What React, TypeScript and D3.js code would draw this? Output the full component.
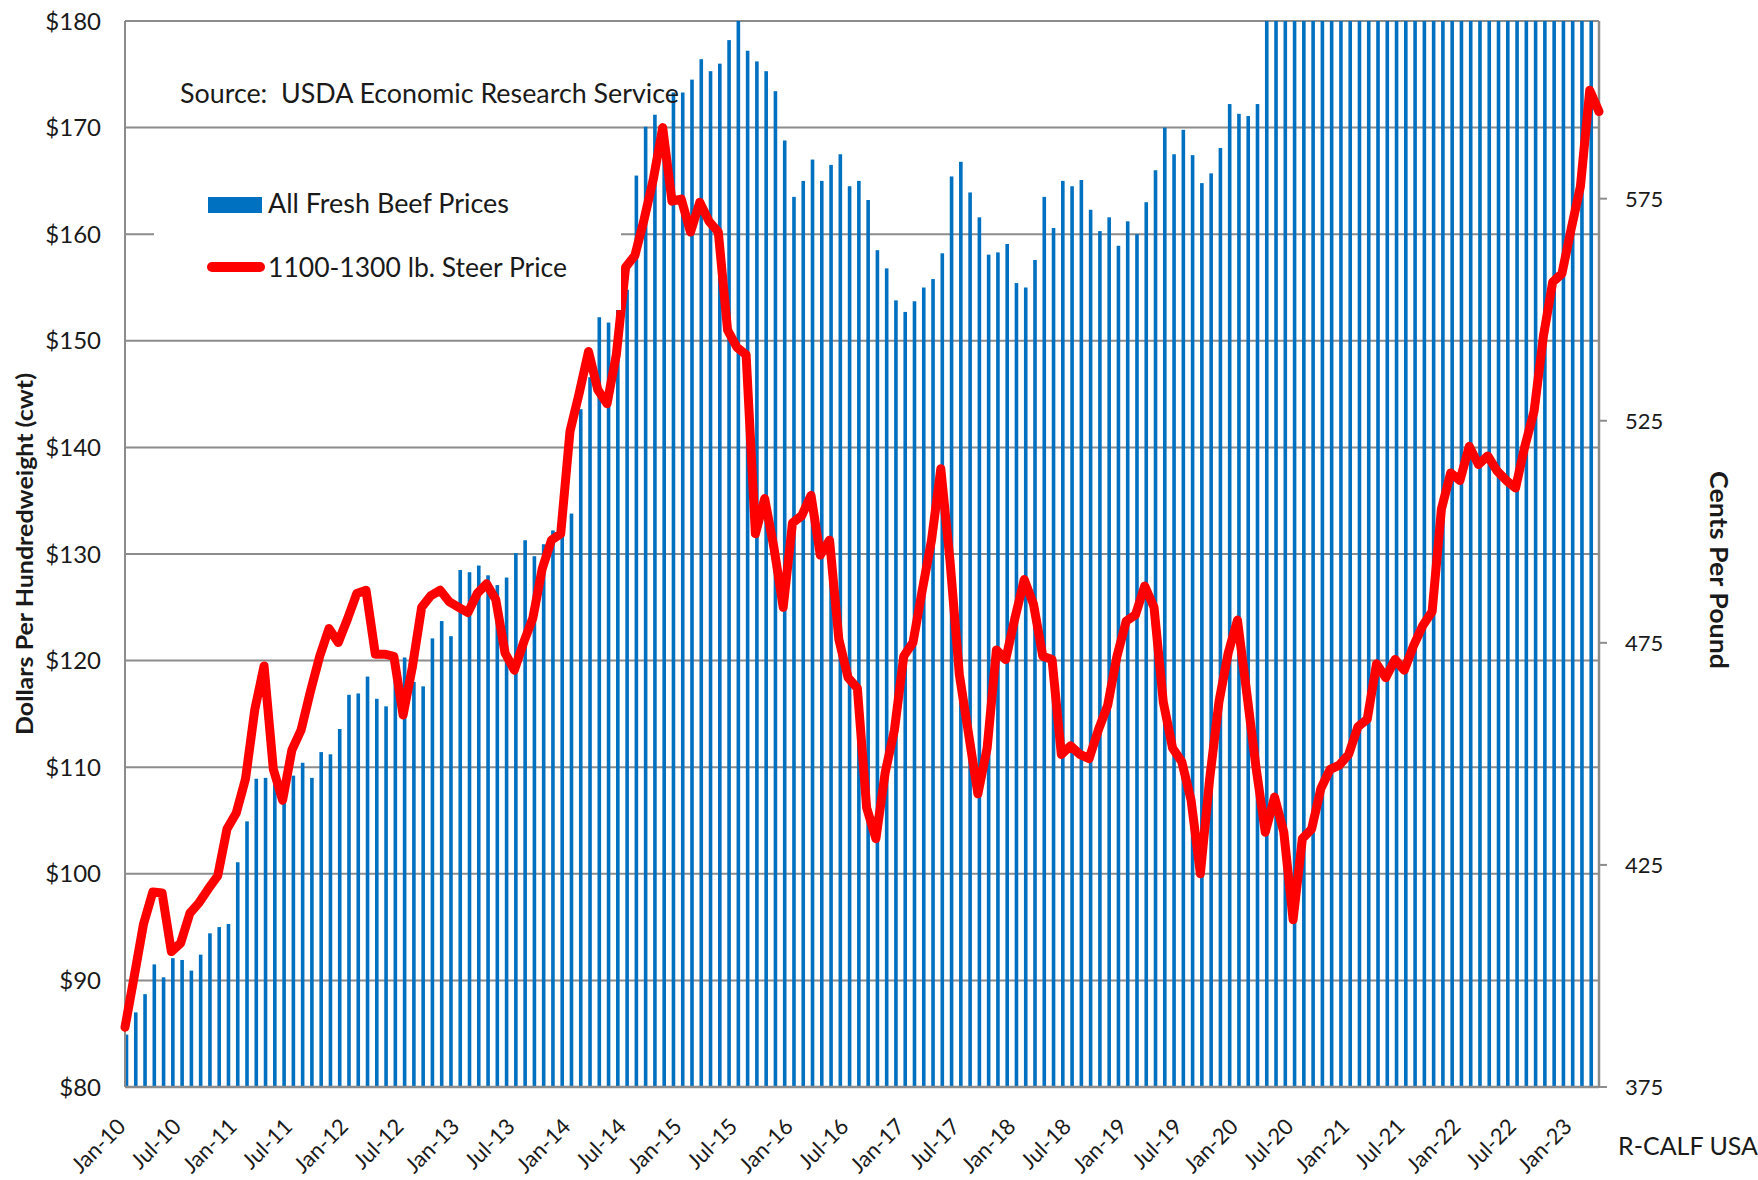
import React, { useEffect, useRef } from "react";
import * as d3 from "d3";

// 1100-1300 lb. steer price, $/cwt, monthly Jan-10 .. Apr-23
const steerPrice = [
  85.6, 90.4, 95.3, 98.3, 98.2, 92.7, 93.5, 96.3, 97.3, 98.6,
  99.8, 104.2, 105.7, 108.9, 115.4, 119.5, 109.8, 106.9, 111.6, 113.5,
  117.1, 120.4, 123.0, 121.7, 123.9, 126.3, 126.6, 120.6, 120.6, 120.4,
  114.9, 119.4, 125.0, 126.1, 126.6, 125.5, 125.0, 124.5, 126.3, 127.2,
  125.7, 120.7, 119.1, 121.7, 124.0, 128.6, 131.3, 131.9, 141.5, 145.1,
  149.0, 145.4, 144.1, 148.7, 156.9, 158.0, 161.4, 165.2, 170.0, 163.1,
  163.3, 160.2, 163.0, 161.2, 160.2, 151.0, 149.4, 148.7, 131.9, 135.2,
  130.6, 125.0, 132.9, 133.6, 135.5, 129.9, 131.3, 122.0, 118.4, 117.4,
  106.2, 103.3, 109.5, 113.5, 120.4, 121.7, 126.6, 131.3, 138.0, 129.3,
  118.7, 113.1, 107.5, 111.8, 121.0, 120.1, 124.0, 127.6, 125.3, 120.4,
  120.1, 111.2, 112.0, 111.2, 110.8, 113.5, 115.8, 120.4, 123.7, 124.3,
  127.0, 125.0, 116.1, 111.8, 110.5, 106.9, 100.0, 108.9, 116.1, 120.7,
  123.8, 117.0, 110.0, 103.9, 107.2, 103.9, 95.7, 103.3, 104.2, 108.0,
  109.8, 110.2, 111.2, 113.8, 114.5, 119.7, 118.4, 120.1, 119.1, 121.4,
  123.3, 124.6, 134.2, 137.6, 136.9, 140.1, 138.4, 139.2, 137.8, 136.9,
  136.2, 140.1, 143.4, 150.4, 155.5, 156.3, 160.5, 164.5, 173.5, 171.5,
];

// all fresh beef retail price, cents/lb, monthly Jan-10 .. Mar-23
// from Apr-20 on the bars run off the top of the chart, so those are guesses
const beefPrice = [
  386.8, 391.8, 395.9, 402.6, 399.7, 404.0, 403.6, 401.2, 404.8, 409.6,
  411.0, 411.7, 425.6, 434.8, 444.4, 444.6, 445.3, 441.7, 445.1, 448.0,
  444.6, 450.4, 449.9, 455.6, 463.3, 463.6, 467.4, 462.4, 460.7, 471.0,
  471.7, 466.2, 465.2, 476.0, 479.9, 476.5, 491.4, 490.9, 492.4, 490.2,
  488.0, 489.7, 495.2, 498.1, 494.5, 497.2, 500.3, 500.0, 504.1, 527.6,
  534.8, 548.3, 547.1, 551.2, 554.5, 580.2, 591.2, 593.9, 589.8, 598.9,
  598.9, 601.8, 606.4, 603.7, 605.4, 610.7, 615.0, 608.3, 605.9, 603.7,
  599.2, 588.1, 575.4, 579.0, 583.8, 579.0, 582.6, 585.0, 577.8, 579.0,
  574.7, 563.4, 559.3, 552.1, 549.5, 551.9, 555.0, 556.9, 562.7, 580.0,
  583.3, 576.4, 570.8, 562.4, 562.9, 564.8, 556.0, 555.0, 561.2, 575.4,
  568.4, 579.0, 577.8, 579.2, 572.5, 567.7, 570.8, 564.4, 569.9, 567.0,
  574.2, 581.4, 591.0, 585.0, 590.5, 584.8, 578.5, 580.7, 586.4, 596.3,
  594.1, 593.6, 596.3, 625, 660, 735, 690, 655, 650, 645,
  640, 640, 635, 640, 645, 655, 665, 690, 700, 720,
  725, 730, 735, 740, 745, 760, 765, 760, 755, 760,
  755, 745, 740, 735, 730, 725, 730, 735, 735,
];

// one label every 6 months, starting at Jan-10
const tickLabels = [
  "Jan-10", "Jul-10", "Jan-11", "Jul-11", "Jan-12", "Jul-12", "Jan-13", "Jul-13",
  "Jan-14", "Jul-14", "Jan-15", "Jul-15", "Jan-16", "Jul-16", "Jan-17", "Jul-17",
  "Jan-18", "Jul-18", "Jan-19", "Jul-19", "Jan-20", "Jul-20", "Jan-21", "Jul-21",
  "Jan-22", "Jul-22", "Jan-23",
];
const leftTicks = [80, 90, 100, 110, 120, 130, 140, 150, 160, 170, 180];
const rightTicks = [375, 425, 475, 525, 575];

const W = 1758, H = 1180;
const FONT = "Lato, 'Open Sans', sans-serif";

export default function App() {
  const ref = useRef<SVGSVGElement>(null);

  useEffect(() => {
    const svg = d3.select(ref.current);
    svg.selectAll("*").remove();

    const left = 125, right = 1599, top = 21, bottom = 1087;
    const grey = "#8c8c8c";

    const x = d3.scalePoint<number>()
      .domain(d3.range(steerPrice.length))
      .range([left, right]);
    const yL = d3.scaleLinear().domain([80, 180]).range([bottom, top]);
    const yR = d3.scaleLinear().domain([375, 615]).range([bottom, top]);

    svg.append("rect").attr("width", W).attr("height", H).attr("fill", "#fff");

    svg.append("clipPath").attr("id", "plot-clip")
      .append("rect")
      .attr("x", left).attr("y", top)
      .attr("width", right - left).attr("height", bottom - top);

    // gridlines
    svg.append("g").selectAll("line")
      .data(leftTicks)
      .join("line")
      .attr("x1", left).attr("x2", right)
      .attr("y1", d => yL(d)).attr("y2", d => yL(d))
      .attr("stroke", grey).attr("stroke-width", 2);

    // bars
    const bw = 3.6;
    svg.append("g").attr("clip-path", "url(#plot-clip)")
      .selectAll("rect")
      .data(beefPrice)
      .join("rect")
      .attr("x", (d, i) => (x(i) as number) + 1.5 - bw / 2)
      .attr("y", d => yR(d))
      .attr("width", bw)
      .attr("height", d => bottom - yR(d))
      .attr("fill", "#0070C0");

    // axis lines
    const axes = svg.append("g").attr("stroke", grey);
    axes.append("line").attr("x1", left).attr("x2", left).attr("y1", top).attr("y2", bottom).attr("stroke-width", 2);
    axes.append("line").attr("x1", right).attr("x2", right).attr("y1", top).attr("y2", bottom).attr("stroke-width", 2.5);
    axes.append("line").attr("x1", left).attr("x2", right).attr("y1", bottom).attr("y2", bottom).attr("stroke-width", 2.5);
    axes.selectAll(".rt")
      .data(rightTicks)
      .join("line")
      .attr("class", "rt")
      .attr("x1", right).attr("x2", right + 8)
      .attr("y1", d => yR(d)).attr("y2", d => yR(d))
      .attr("stroke-width", 2);

    // steer price line
    const line = d3.line<number>()
      .x((d, i) => x(i) as number)
      .y(d => yL(d));
    svg.append("path")
      .datum(steerPrice)
      .attr("d", line)
      .attr("fill", "none")
      .attr("stroke", "#FF0000")
      .attr("stroke-width", 9)
      .attr("stroke-linejoin", "round")
      .attr("stroke-linecap", "round");

    const txt = svg.append("g").attr("font-family", FONT).attr("fill", "#1a1a1a");

    // left axis labels
    txt.selectAll(".lt")
      .data(leftTicks)
      .join("text")
      .attr("class", "lt")
      .attr("x", 101).attr("y", d => yL(d))
      .attr("dy", "0.36em")
      .attr("text-anchor", "end")
      .attr("font-size", 24)
      .text(d => "$" + d);

    // right axis labels
    txt.selectAll(".rl")
      .data(rightTicks)
      .join("text")
      .attr("class", "rl")
      .attr("x", 1625).attr("y", d => yR(d))
      .attr("dy", "0.36em")
      .attr("font-size", 22)
      .text(d => d);

    // x labels
    txt.selectAll(".xl")
      .data(tickLabels)
      .join("text")
      .attr("class", "xl")
      .attr("transform", (d, k) => `translate(${(x(k * 6) as number) + 2},1128) rotate(-45)`)
      .attr("text-anchor", "end")
      .attr("font-size", 22)
      .text(d => d);

    // axis titles
    txt.append("text")
      .attr("transform", "translate(33,554) rotate(-90)")
      .attr("text-anchor", "middle")
      .attr("font-size", 23)
      .attr("font-weight", "bold")
      .attr("textLength", 362)
      .attr("lengthAdjust", "spacingAndGlyphs")
      .text("Dollars Per Hundredweight (cwt)");
    txt.append("text")
      .attr("transform", "translate(1710,570) rotate(90)")
      .attr("text-anchor", "middle")
      .attr("font-size", 24)
      .attr("font-weight", "bold")
      .attr("textLength", 198)
      .attr("lengthAdjust", "spacingAndGlyphs")
      .text("Cents Per Pound");

    txt.append("text")
      .attr("x", 180).attr("y", 103)
      .attr("font-size", 26)
      .attr("xml:space", "preserve")
      .attr("textLength", 499)
      .attr("lengthAdjust", "spacingAndGlyphs")
      .text("Source:  USDA Economic Research Service");

    txt.append("text")
      .attr("x", 1618).attr("y", 1155)
      .attr("font-size", 25)
      .text("R-CALF USA");

    // legend
    const lg = svg.append("g").attr("font-family", FONT).attr("fill", "#1a1a1a");
    lg.append("rect").attr("x", 154).attr("y", 150).attr("width", 467).attr("height", 160).attr("fill", "#fff");
    lg.append("rect").attr("x", 208).attr("y", 197).attr("width", 54).attr("height", 16).attr("fill", "#0070C0");
    lg.append("line")
      .attr("x1", 212).attr("x2", 260).attr("y1", 267).attr("y2", 267)
      .attr("stroke", "#FF0000").attr("stroke-width", 10).attr("stroke-linecap", "round");
    lg.append("text").attr("x", 268).attr("y", 213)
      .attr("font-size", 26)
      .attr("textLength", 241)
      .attr("lengthAdjust", "spacingAndGlyphs")
      .text("All Fresh Beef Prices");
    lg.append("text").attr("x", 268).attr("y", 277)
      .attr("font-size", 26)
      .attr("textLength", 299)
      .attr("lengthAdjust", "spacingAndGlyphs")
      .text("1100-1300 lb. Steer Price");
  }, []);

  return (
    <svg
      ref={ref}
      width={W}
      height={H}
      style={{ position: "absolute", left: 0, top: 0, display: "block" }}
    />
  );
}
